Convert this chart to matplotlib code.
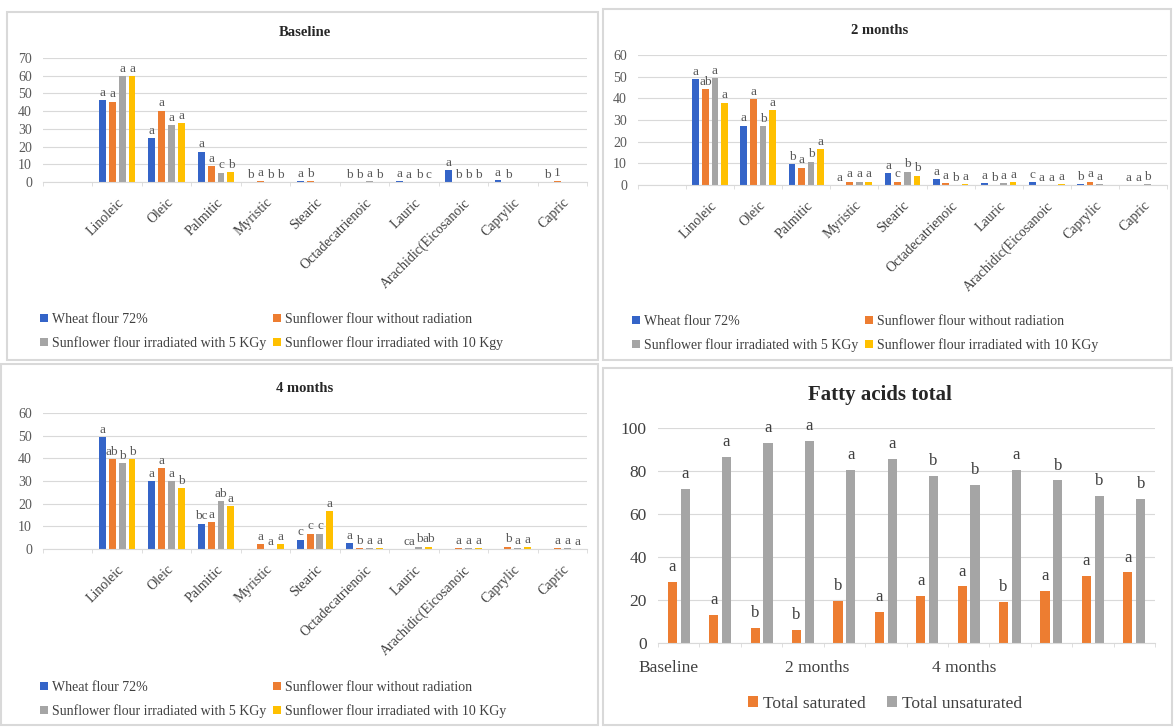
# Fatty acid composition: three storage times + totals
import numpy as np
import matplotlib.pyplot as plt
from matplotlib.patches import Rectangle

plt.rcParams['font.family'] = ['Liberation Serif', 'DejaVu Serif']

W, H = 1174, 727

acids = ['Linoleic', 'Oleic', 'Palmitic', 'Myristic', 'Stearic', 'Octadecatrienoic',
         'Lauric', 'Arachidic(Eicosanoic', 'Caprylic', 'Capric']
colors = ['#3464C8', '#ED7D31', '#A5A5A5', '#FFC000']

# Baseline
base_wheat = [46.3, 24.6, 17.0, 0.0, 0.6, 0.0, 0.6, 6.5, 1.0, 0.0]
base_sun0 = [45.4, 40.3, 9.0, 0.8, 0.4, 0.0, 0.0, 0.0, 0.0, 0.8]
base_sun5 = [59.6, 32.2, 5.3, 0.0, 0.0, 0.4, 0.0, 0.0, 0.0, 0.0]
base_sun10 = [59.6, 33.1, 5.7, 0.0, 0.0, 0.0, 0.0, 0.0, 0.0, 0.0]
base_letters = [['a', 'a', 'a', 'a'], ['a', 'a', 'a', 'a'], ['a', 'a', 'c', 'b'],
                ['b', 'a', 'b', 'b'], ['a', 'b', '', ''], ['b', 'b', 'a', 'b'],
                ['a', 'a', 'b', 'c'], ['a', 'b', 'b', 'b'], ['a', 'b', '', ''],
                ['b', '1', '', '']]

# 2 months
m2_wheat = [48.9, 27.4, 9.7, 0.0, 5.4, 2.8, 0.8, 1.2, 0.3, 0.0]
m2_sun0 = [44.3, 39.7, 8.0, 1.5, 1.5, 0.8, 0.0, 0.0, 1.5, 0.0]
m2_sun5 = [49.2, 27.2, 10.8, 1.5, 6.1, 0.0, 0.8, 0.0, 0.3, 0.5]
m2_sun10 = [38.0, 34.6, 16.6, 1.5, 4.3, 0.3, 1.2, 0.3, 0.0, 0.0]
m2_letters = [['a', 'ab', 'a', 'a'], ['a', 'a', 'b', 'a'], ['b', 'a', 'b', 'a'],
              ['a', 'a', 'a', 'a'], ['a', 'c', 'b', 'b'], ['a', 'a', 'b', 'a'],
              ['a', 'b', 'a', 'a'], ['c', 'a', 'a', 'a'], ['b', 'a', 'a', ''],
              ['a', 'a', 'b', '']]

# 4 months
m4_wheat = [49.2, 29.8, 11.2, 0.0, 4.1, 2.6, 0.0, 0.0, 0.0, 0.0]
m4_sun0 = [39.7, 35.7, 11.8, 2.0, 6.7, 0.3, 0.0, 0.3, 1.0, 0.3]
m4_sun5 = [37.9, 29.8, 21.0, 0.0, 6.7, 0.3, 1.0, 0.3, 0.3, 0.3]
m4_sun10 = [39.7, 26.9, 18.8, 2.0, 16.6, 0.3, 1.0, 0.3, 0.8, 0.0]
m4_letters = [['a', 'ab', 'b', 'b'], ['a', 'a', 'a', 'b'], ['bc', 'a', 'ab', 'a'],
              ['', 'a', 'a', 'a'], ['c', 'c', 'c', 'a'], ['a', 'b', 'a', 'a'],
              ['', 'ca', 'b', 'ab'], ['', 'a', 'a', 'a'], ['', 'b', 'a', 'a'],
              ['', 'a', 'a', 'a']]

# totals
total_sat = [28.2, 13.2, 7.0, 6.2, 19.7, 14.3, 21.7, 26.3, 19.1, 24.0, 31.0, 32.8]
total_unsat = [71.6, 86.5, 93.0, 93.8, 80.3, 85.6, 77.8, 73.3, 80.6, 75.6, 68.5, 67.0]
sat_letters = ['a', 'a', 'b', 'b', 'b', 'a', 'a', 'a', 'b', 'a', 'a', 'a']
unsat_letters = ['a', 'a', 'a', 'a', 'a', 'a', 'b', 'b', 'a', 'b', 'b', 'b']
time_labels = ['Baseline', '2 months', '4 months']


def box(x0, y0, x1, y1):
    # pixel box -> figure fractions
    return [x0 / W, 1 - y1 / H, (x1 - x0) / W, (y1 - y0) / H]


def style(ax, ymax, step, fs):
    ax.set_ylim(0, ymax)
    ax.set_yticks(range(0, ymax + 1, step))
    ax.grid(axis='y', color='#D9D9D9', lw=0.8)
    ax.set_axisbelow(True)
    for s in ['top', 'right', 'left']:
        ax.spines[s].set_visible(False)
    ax.spines['bottom'].set_color('#D9D9D9')
    ax.tick_params(axis='y', length=0, labelsize=fs, labelcolor='#595959', pad=8)


fig = plt.figure(figsize=(W / 100, H / 100), dpi=100)

# panel frames
for p in [(7, 12, 598, 360), (603, 9, 1171, 360), (1, 364, 598, 725), (603, 368, 1172, 725)]:
    fig.patches.append(Rectangle((p[0] / W, 1 - p[3] / H), (p[2] - p[0]) / W, (p[3] - p[1]) / H,
                                 transform=fig.transFigure, fill=False, ec='#D9D9D9', lw=1.5))


def acid_panel(rect, title, title_xy, series, letters, ymax, names, leg_xy):
    ax = fig.add_axes(rect)
    x = np.arange(len(acids))
    bars = []
    for i, v in enumerate(series):
        pos = x + (i - 1.5) * 0.2
        b = ax.bar(pos, v, 0.14, color=colors[i])
        bars.append(b)
        for p, h, lab in zip(pos, v, [l[i] for l in letters]):
            ax.annotate(lab, (p, h), xytext=(0, 1), textcoords='offset points',
                        ha='center', va='bottom', fontsize=9.5, color='#595959')
    ax.set_xlim(-1.5, 9.5)
    style(ax, ymax, 10, 10)
    ax.set_xticks(x)
    ax.set_xticklabels(acids, rotation=45, ha='right', rotation_mode='anchor',
                       fontsize=10, color='#404040')
    ax.set_xticks(np.arange(-1.5, 10, 1), minor=True)
    ax.tick_params(axis='x', which='major', length=0, pad=10)
    ax.tick_params(axis='x', which='minor', length=3, color='#D9D9D9')
    fig.text(title_xy[0] / W, 1 - title_xy[1] / H, title, ha='center', va='center',
             fontsize=10.5, fontweight='bold', color='#262626')
    fig.legend([bars[0], bars[2], bars[1], bars[3]], [names[0], names[2], names[1], names[3]],
               ncol=2, loc='upper left', bbox_to_anchor=(leg_xy[0] / W, 1 - leg_xy[1] / H),
               frameon=False, fontsize=10, handlelength=0.55, handleheight=0.55,
               handletextpad=0.3, columnspacing=0.5, labelspacing=0.75,
               labelcolor='#404040', borderpad=0, borderaxespad=0)
    return ax


names = ['Wheat flour 72%', 'Sunflower flour without radiation',
         'Sunflower flour irradiated with 5 KGy', 'Sunflower flour irradiated with 10 KGy']
names_base = names[:3] + ['Sunflower flour irradiated with 10 Kgy']

acid_panel(box(43, 58, 587, 182), 'Baseline', (305, 33),
           [base_wheat, base_sun0, base_sun5, base_sun10], base_letters, 70, names_base, (40, 313))
acid_panel(box(638, 55, 1167, 185), '2 months', (880, 30),
           [m2_wheat, m2_sun0, m2_sun5, m2_sun10], m2_letters, 60, names, (632, 315))
acid_panel(box(43, 413, 587, 549), '4 months', (305, 388),
           [m4_wheat, m4_sun0, m4_sun5, m4_sun10], m4_letters, 60, names, (40, 681))

# totals panel
ax = fig.add_axes(box(658, 428, 1155, 643))
x = np.arange(len(total_sat))
b1 = ax.bar(x - 0.155, total_sat, 0.22, color='#ED7D31')
b2 = ax.bar(x + 0.155, total_unsat, 0.22, color='#A5A5A5')
for xs, vals, labs in [(x - 0.155, total_sat, sat_letters), (x + 0.155, total_unsat, unsat_letters)]:
    for p, h, lab in zip(xs, vals, labs):
        ax.annotate(lab, (p, h), xytext=(0, 5), textcoords='offset points',
                    ha='center', va='bottom', fontsize=12, color='#404040')
ax.set_xlim(-0.5, 11.5)
style(ax, 100, 20, 12.5)
ax.tick_params(axis='y', labelcolor='#404040')
ax.set_xticks([-0.25, 3.35, 6.9])
ax.set_xticklabels(time_labels, fontsize=12.5, color='#404040')
ax.set_xticks(np.arange(-0.5, 12, 1), minor=True)
ax.tick_params(axis='x', which='major', length=0, pad=12)
ax.tick_params(axis='x', which='minor', length=3, color='#D9D9D9')
fig.text(880 / W, 1 - 395 / H, 'Fatty acids total', ha='center', va='center',
         fontsize=15, fontweight='bold', color='#262626')
fig.legend([b1, b2], ['Total saturated', 'Total unsaturated'], ncol=2, loc='center',
           bbox_to_anchor=(885 / W, 1 - 704 / H), frameon=False, fontsize=12.5,
           handlelength=0.6, handleheight=0.6, handletextpad=0.3, columnspacing=1.2,
           labelcolor='#404040')

fig.savefig('out.png', dpi=100, facecolor='white')
